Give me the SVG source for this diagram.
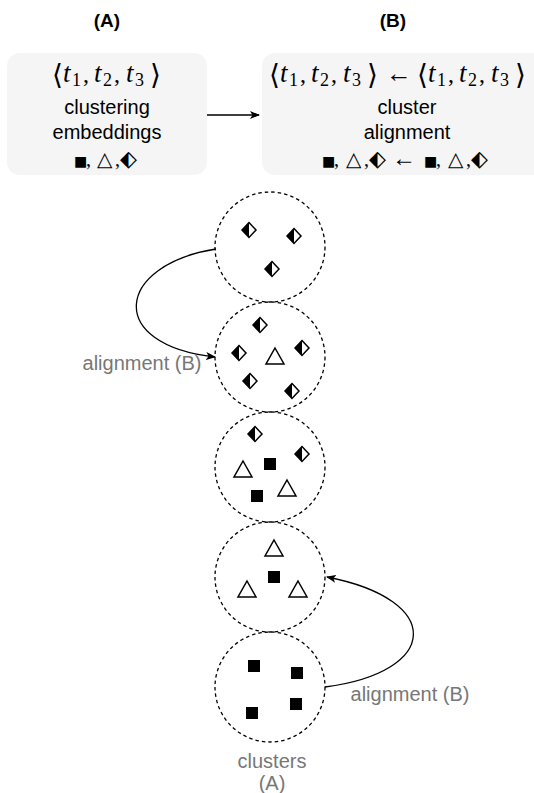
<svg xmlns="http://www.w3.org/2000/svg" xmlns:xlink="http://www.w3.org/1999/xlink" width="534" height="793" viewBox="0 0 534 793">
<style>
.hd{font-family:"Liberation Sans",Arial,sans-serif;font-weight:bold;font-size:19px;fill:#000;text-anchor:middle}
.tx{font-family:"Liberation Sans",Arial,sans-serif;font-size:20px;fill:#000;text-anchor:middle}
.lb{font-family:"Liberation Sans",Arial,sans-serif;font-size:20px;fill:#777;text-anchor:middle}
.m{font-family:"Liberation Serif","DejaVu Serif",serif;font-size:24px;fill:#000}
.i{font-style:italic;font-size:27px}
.s{font-size:18px}
.br{font-family:"DejaVu Serif",serif;font-size:28px}
.ar{font-family:"Liberation Serif","DejaVu Serif",serif;font-size:26px}
.ar2{font-family:"Liberation Serif","DejaVu Serif",serif;font-size:24px}
.sy{font-family:"Liberation Serif","DejaVu Serif",serif;font-size:20px;fill:#000}
.q{font-family:"DejaVu Sans",sans-serif;font-size:14px}
.t{font-family:"DejaVu Sans",sans-serif;font-size:20px}
.d{font-family:"DejaVu Sans",sans-serif;font-size:22px}
.box{fill:#f5f5f5;stroke:none}
.cl{fill:none;stroke:#000;stroke-width:1.3;stroke-dasharray:3.5 3}
.cn{fill:none;stroke:#000;stroke-width:1.3}
</style>
<defs>
<marker id="ah" viewBox="0 0 10 8" refX="9" refY="4" markerWidth="10" markerHeight="8" markerUnits="userSpaceOnUse" orient="auto">
<path d="M0,0 L10,4 L0,8 L2.5,4 z" fill="#000"/>
</marker>
<g id="dia"><polygon points="0,-7.5 7,0 0,7.5 -7,0" fill="#fff" stroke="#000" stroke-width="1.5"/><polygon points="0,-7.5 -7,0 0,7.5" fill="#000"/></g>
<polygon id="tri" points="0,-9 9,7 -9,7" fill="#fff" stroke="#000" stroke-width="1.5"/>
<rect id="sq" x="-6" y="-6" width="12" height="12" fill="#000"/>
</defs>

<g id="headA"><text class="hd" x="107" y="27">(A)</text></g>
<g id="headB"><text class="hd" x="393" y="27">(B)</text></g>

<g id="boxA">
<rect class="box" x="7" y="53" width="200" height="122" rx="13"/>
<text class="m" y="82"><tspan x="52" y="84" class="br">⟨</tspan><tspan x="63" y="82" class="i">t</tspan><tspan x="72" y="86" class="s">1</tspan><tspan x="83" y="82">,</tspan><tspan x="94" class="i">t</tspan><tspan x="103" y="86" class="s">2</tspan><tspan x="114" y="82">,</tspan><tspan x="126" class="i">t</tspan><tspan x="135" y="86" class="s">3</tspan><tspan x="150" y="84" class="br">⟩</tspan></text>
<text class="tx" x="107" y="114">clustering</text>
<text class="tx" x="107" y="139">embeddings</text>
<text class="sy" y="166"><tspan x="74" class="q">■</tspan><tspan x="86">,</tspan><tspan x="97" class="t">△</tspan><tspan x="115">,</tspan><tspan x="120" class="d">⬖</tspan></text>
</g>

<g id="boxB">
<rect class="box" x="262" y="53" width="300" height="122" rx="13"/>
<text class="m" y="82"><tspan x="269" y="84" class="br">⟨</tspan><tspan x="280" y="82" class="i">t</tspan><tspan x="289" y="86" class="s">1</tspan><tspan x="300" y="82">,</tspan><tspan x="311" class="i">t</tspan><tspan x="320" y="86" class="s">2</tspan><tspan x="331" y="82">,</tspan><tspan x="343" class="i">t</tspan><tspan x="352" y="86" class="s">3</tspan><tspan x="367" y="84" class="br">⟩</tspan><tspan x="386" y="82" class="ar">←</tspan><tspan x="417" y="84" class="br">⟨</tspan><tspan x="428" y="82" class="i">t</tspan><tspan x="437" y="86" class="s">1</tspan><tspan x="448" y="82">,</tspan><tspan x="459" class="i">t</tspan><tspan x="468" y="86" class="s">2</tspan><tspan x="479" y="82">,</tspan><tspan x="491" class="i">t</tspan><tspan x="500" y="86" class="s">3</tspan><tspan x="515" y="84" class="br">⟩</tspan></text>
<text class="tx" x="407" y="114">cluster</text>
<text class="tx" x="407" y="139">alignment</text>
<text class="sy" y="166"><tspan x="322" class="q">■</tspan><tspan x="334">,</tspan><tspan x="346" class="t">△</tspan><tspan x="364">,</tspan><tspan x="369" class="d">⬖</tspan><tspan x="392" class="ar2">←</tspan><tspan x="424" class="q">■</tspan><tspan x="436">,</tspan><tspan x="448" class="t">△</tspan><tspan x="466">,</tspan><tspan x="471" class="d">⬖</tspan></text>
</g>

<g id="cluster1">
<circle class="cl" cx="270" cy="247" r="55"/>
<use xlink:href="#dia" x="249" y="230"/>
<use xlink:href="#dia" x="294" y="236"/>
<use xlink:href="#dia" x="272" y="269"/>
</g>
<g id="cluster2">
<circle class="cl" cx="270" cy="357" r="55"/>
<use xlink:href="#dia" x="260" y="325"/>
<use xlink:href="#dia" x="239" y="353"/>
<use xlink:href="#dia" x="302" y="348"/>
<use xlink:href="#dia" x="250" y="381"/>
<use xlink:href="#dia" x="292" y="391"/>
<use xlink:href="#tri" x="275" y="357"/>
</g>
<g id="cluster3">
<circle class="cl" cx="270" cy="467" r="55"/>
<use xlink:href="#dia" x="255" y="434"/>
<use xlink:href="#dia" x="302" y="454"/>
<use xlink:href="#tri" x="243" y="470"/>
<use xlink:href="#sq" x="270" y="464"/>
<use xlink:href="#sq" x="257" y="496"/>
<use xlink:href="#tri" x="287" y="489"/>
</g>
<g id="cluster4">
<circle class="cl" cx="270" cy="577" r="55"/>
<use xlink:href="#tri" x="274" y="549"/>
<use xlink:href="#sq" x="274" y="577"/>
<use xlink:href="#tri" x="247" y="590"/>
<use xlink:href="#tri" x="298" y="590"/>
</g>
<g id="cluster5">
<circle class="cl" cx="270" cy="687" r="55"/>
<use xlink:href="#sq" x="254" y="666"/>
<use xlink:href="#sq" x="297" y="673"/>
<use xlink:href="#sq" x="252" y="713"/>
<use xlink:href="#sq" x="296" y="704"/>
</g>

<g id="labels">
<text class="lb" x="142" y="370">alignment (B)</text>
<text class="lb" x="410" y="701">alignment (B)</text>
<text class="lb" x="272" y="768">clusters</text>
<text class="lb" x="272" y="790">(A)</text>
</g>

<g id="connectors">
<path class="cn" d="M207,115 L259,115" marker-end="url(#ah)"/>
<path class="cn" d="M216,249 C115,265 105,345 215,357" marker-end="url(#ah)"/>
<path class="cn" d="M325,687 C440,672 445,600 327,577" marker-end="url(#ah)"/>
</g>
</svg>
